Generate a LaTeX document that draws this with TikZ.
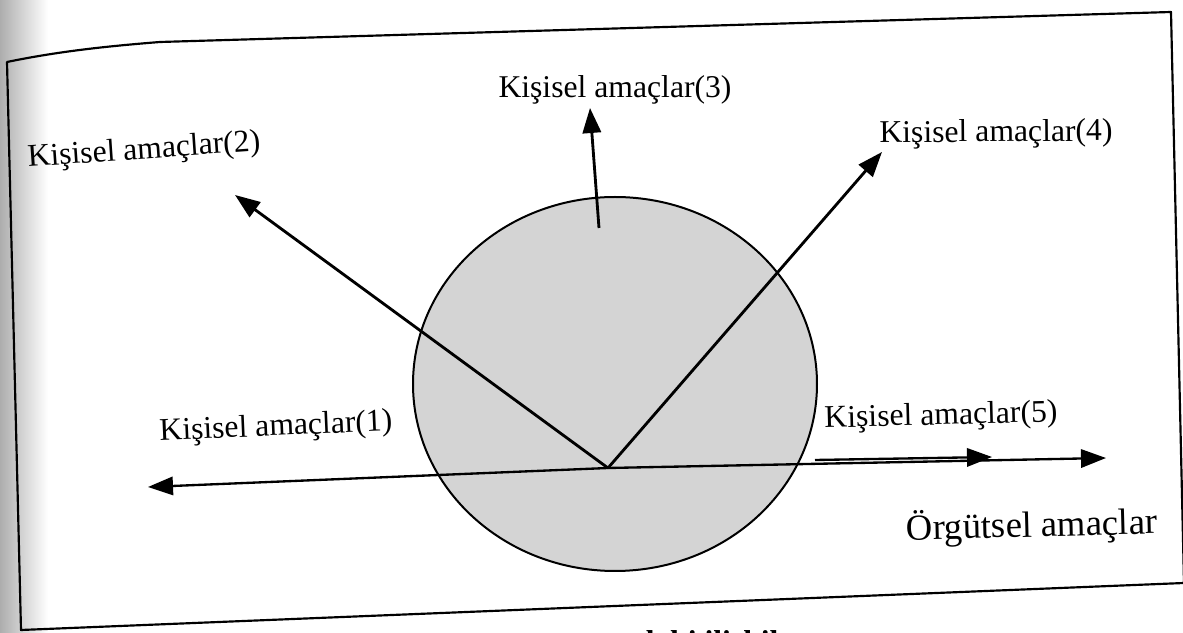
\documentclass[tikz,border=0pt]{standalone}
\usepackage{fontspec}
\setmainfont{Liberation Serif}
\usetikzlibrary{arrows.meta,shapes.geometric}
\begin{document}
\begin{tikzpicture}[x=0.6pt,y=-0.6pt,
  lbl/.style={font=\fontsize{19pt}{22pt}\selectfont, inner sep=0pt},
  arr/.style={line width=1.7pt, -{Triangle[length=15pt,width=11pt]}},
  thinarr/.style={line width=1.4pt, -{Triangle[length=15pt,width=11pt]}},
  frame/.style={line width=1.3pt, line join=round}]
\useasboundingbox (0,0) rectangle (1183,633);
\clip (0,0) rectangle (1183,633);
% page-edge shadow of the scan
\fill[left color=black!32, right color=white] (0,0) rectangle (48,633);
% frame
\coordinate (TL) at (7,62);
\coordinate (TR) at (1171,12);
\coordinate (BR) at (1184,583);
\coordinate (BL) at (21,630);
\draw[frame] (BL) -- (TL) .. controls (60,51) and (110,46) .. (160,42) -- (TR) -- (BR) -- cycle;
% circle
\node[ellipse, draw, line width=1.2pt, fill=black!17, minimum width=242.4pt,
      minimum height=224.4pt, inner sep=0pt] (circ) at (615,384) {};
% arrows
\coordinate (C) at (608,468);
\coordinate (t1) at (148,487);
\coordinate (t2) at (235,195);
\coordinate (s3) at (599,228);
\coordinate (t3) at (590,108);
\coordinate (t4) at (882,152);
\coordinate (s5) at (815,460);
\coordinate (t5) at (992,457);
\coordinate (t6) at (1106,458);
\draw[thinarr] (C) -- (t1);
\draw[thinarr] (C) -- (t6);
\draw[thinarr] (s5) -- (t5);
\draw[arr] (C) -- (t2);
\draw[arr] (s3) -- (t3);
\draw[arr] (C) -- (t4);
% labels
\node[lbl, rotate=2.5] (l1) at (276,428) {Kişisel amaçlar(1)};
\node[lbl, rotate=4] (l2) at (144,151) {Kişisel amaçlar(2)};
\node[lbl] (l3) at (615,90) {Kişisel amaçlar(3)};
\node[lbl, rotate=0.5] (l4) at (996,134) {Kişisel amaçlar(4)};
\node[lbl, rotate=1.5] (l5) at (941,417) {Kişisel amaçlar(5)};
\node[lbl, font=\fontsize{22pt}{26pt}\selectfont, rotate=1.5] (org) at (1032,526) {Örgütsel amaçlar};
% partly visible caption below the frame
\node[font=\bfseries\fontsize{19pt}{22pt}\selectfont, inner sep=0pt, anchor=base west] (cap) at (552,653) {arasındaki ilişkiler};
\end{tikzpicture}
\end{document}
